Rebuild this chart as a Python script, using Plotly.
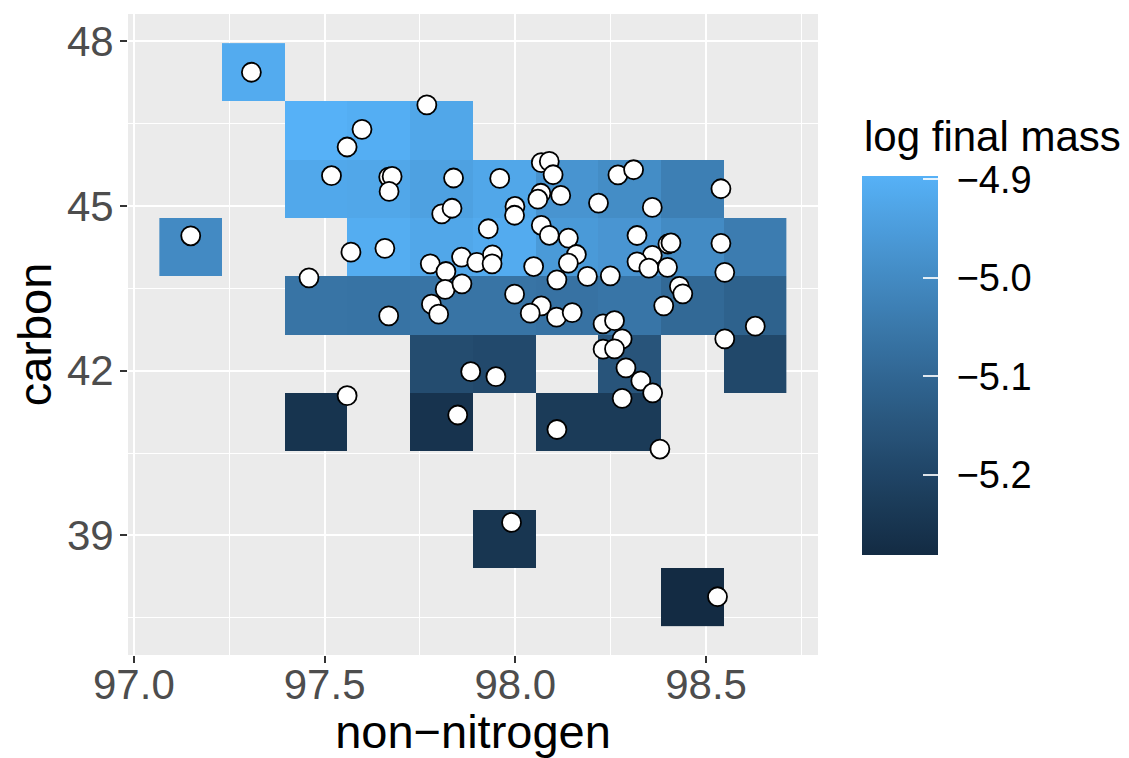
import numpy as np
import plotly.graph_objects as go

# ---- point data (non-nitrogen, carbon) ----
pt_x = [97.308, 97.149, 97.768, 97.598, 97.559, 97.518, 97.668, 97.677, 97.669, 97.838,
        97.807, 97.834, 97.569, 97.658, 97.777, 97.818, 97.459, 97.959, 98.068, 98.089,
        98.099, 98.067, 98.059, 98.119, 98.218, 97.999, 97.998, 97.929, 98.068, 98.089,
        98.139, 98.160, 98.139, 98.048, 98.189, 97.859, 97.899, 97.940, 97.939, 98.269,
        98.310, 98.539, 98.359, 98.319, 98.400, 98.408, 98.539, 98.359, 98.319, 98.350,
        98.399, 98.549, 98.109, 98.249, 97.998, 98.068, 98.039, 98.108, 98.149, 98.430,
        98.439, 98.389, 98.629, 98.549, 98.230, 98.260, 98.280, 98.230, 98.260, 98.290,
        98.329, 98.360, 98.280, 97.949, 97.883, 98.109, 98.379, 97.849, 97.990, 98.530,
        97.559, 97.668, 97.780, 97.799, 97.816, 97.860]
pt_y = [47.435, 44.457, 46.840, 46.395, 46.074, 45.551, 45.527, 45.538, 45.265, 45.509,
        44.855, 44.958, 44.160, 44.229, 43.946, 43.806, 43.691, 45.502, 45.788, 45.812,
        45.569, 45.232, 45.123, 45.192, 45.053, 44.991, 44.831, 44.585, 44.648, 44.466,
        44.415, 44.116, 43.959, 43.897, 43.719, 44.069, 43.974, 44.111, 43.946, 45.566,
        45.660, 45.314, 44.973, 44.462, 44.307, 44.326, 44.320, 44.101, 43.983, 43.868,
        43.883, 43.791, 43.655, 43.728, 43.394, 43.181, 43.047, 42.974, 43.058, 43.536,
        43.399, 43.181, 42.810, 42.579, 42.852, 42.911, 42.579, 42.391, 42.396, 42.050,
        41.813, 41.594, 41.497, 41.891, 41.982, 40.929, 40.573, 41.193, 39.236, 37.883,
        41.545, 42.998, 43.212, 43.029, 43.481, 43.582]

# ---- binned summary (mean log final mass per 2D bin, 10 x 10 bins) ----
n_bins = 10
tile_col = [1, 2, 3, 4, 2, 3, 4, 5, 6, 7, 8,
            0, 3, 4, 5, 6, 7, 8, 9,
            2, 3, 4, 5, 6, 7, 8, 9,
            4, 5, 7, 9,
            2, 4, 6, 7,
            5, 8]
tile_row = [9, 8, 8, 8, 7, 7, 7, 7, 7, 7, 7,
            6, 6, 6, 6, 6, 6, 6, 6,
            5, 5, 5, 5, 5, 5, 5, 5,
            4, 4, 4, 4,
            3, 3, 3, 3,
            1, 0]
tile_val = [-4.912, -4.8966, -4.904, -4.924, -4.920, -4.924, -4.939, -4.924, -4.974, -4.993, -5.031,
            -5.000, -4.908, -4.924, -4.912, -4.958, -4.970, -4.997, -5.039,
            -5.062, -5.064, -5.062, -5.062, -5.066, -5.058, -5.093, -5.112,
            -5.178, -5.185, -5.154, -5.189,
            -5.253, -5.255, -5.231, -5.231,
            -5.247, -5.2815]

x_ticks = [97.0, 97.5, 98.0, 98.5]
y_ticks = [39, 42, 45, 48]
cb_ticks = [-4.9, -5.0, -5.1, -5.2]

# bin centres spread over the data range (as ggplot's bins do)
x_centers = np.linspace(min(pt_x), max(pt_x), n_bins)
y_centers = np.linspace(min(pt_y), max(pt_y), n_bins)
z = [[None] * n_bins for _ in range(n_bins)]
for c, r, v in zip(tile_col, tile_row, tile_val):
    z[r][c] = v
zmin, zmax = min(tile_val), max(tile_val)

# ---- ggplot-like gradient interpolated in CIELAB ----
def _srgb_to_lab(h):
    rgb = [int(h[i:i + 2], 16) / 255 for i in (1, 3, 5)]
    lin = [c / 12.92 if c <= 0.04045 else ((c + 0.055) / 1.055) ** 2.4 for c in rgb]
    X = 0.4124 * lin[0] + 0.3576 * lin[1] + 0.1805 * lin[2]
    Y = 0.2126 * lin[0] + 0.7152 * lin[1] + 0.0722 * lin[2]
    Z = 0.0193 * lin[0] + 0.1192 * lin[1] + 0.9505 * lin[2]
    Xn, Yn, Zn = 0.95047, 1.0, 1.08883
    f = lambda t: t ** (1 / 3) if t > 0.008856 else 7.787 * t + 16 / 116
    fx, fy, fz = f(X / Xn), f(Y / Yn), f(Z / Zn)
    return (116 * fy - 16, 500 * (fx - fy), 200 * (fy - fz))

def _lab_to_rgb(L, a, b):
    fy = (L + 16) / 116
    fx = fy + a / 500
    fz = fy - b / 200
    finv = lambda t: t ** 3 if t ** 3 > 0.008856 else (t - 16 / 116) / 7.787
    X, Y, Z = 0.95047 * finv(fx), finv(fy), 1.08883 * finv(fz)
    r = 3.2406 * X - 1.5372 * Y - 0.4986 * Z
    g = -0.9689 * X + 1.8758 * Y + 0.0415 * Z
    bb = 0.0557 * X - 0.2040 * Y + 1.0570 * Z
    out = []
    for c in (r, g, bb):
        c = max(0.0, min(1.0, c))
        c = 12.92 * c if c <= 0.0031308 else 1.055 * c ** (1 / 2.4) - 0.055
        out.append(int(round(c * 255)))
    return "rgb(%d,%d,%d)" % tuple(out)

lo, hi = _srgb_to_lab("#132B43"), _srgb_to_lab("#56B1F7")
colorscale = []
for k in range(21):
    t = k / 20
    colorscale.append([t, _lab_to_rgb(*[lo[i] + (hi[i] - lo[i]) * t for i in range(3)])])

# ---- geometry (pixels; the page body adds an 8px offset) ----
OFF = 8
W, H = 1129 - OFF, 758 - OFF
ml, mt = 128 - OFF, 14 - OFF
panel_r, panel_b = 818 - OFF, 655 - OFF
mr, mb = W - panel_r, H - panel_b
pw, ph = W - ml - mr, H - mt - mb
cb_left_px, cb_thick, cb_len = 862 - OFF, 76, 379
cb_center_px = 365.5 - OFF
FONT = "Liberation Sans"

fig = go.Figure()
fig.add_trace(go.Heatmap(
    x=x_centers, y=y_centers, z=z, zmin=zmin, zmax=zmax,
    colorscale=colorscale, hoverinfo="skip",
    colorbar=dict(
        x=(cb_left_px - ml) / pw, xanchor="left", xpad=0,
        y=(panel_b - cb_center_px) / ph, yanchor="middle", ypad=0,
        len=cb_len, lenmode="pixels", thickness=cb_thick, thicknessmode="pixels",
        outlinewidth=0,
        tickvals=cb_ticks, ticktext=["\u00a0\u2212%.1f" % abs(v) for v in cb_ticks],
        ticks="inside", ticklen=15, tickwidth=1.5, tickcolor="rgba(255,255,255,0.85)",
        tickfont=dict(size=38, color="black", family=FONT),
    ),
))
fig.add_trace(go.Scatter(
    x=pt_x, y=pt_y, mode="markers", hoverinfo="skip",
    marker=dict(size=19, color="white", line=dict(color="black", width=1.8)),
))

# left-side colourbar ticks (ggplot draws ticks on both edges)
bar_bottom_paper = (panel_b - (cb_center_px + cb_len / 2)) / ph
shapes = []
for v in cb_ticks:
    yp = bar_bottom_paper + (v - zmin) / (zmax - zmin) * cb_len / ph
    x0 = (cb_left_px - ml) / pw
    shapes.append(dict(type="line", xref="paper", yref="paper",
                       x0=x0, x1=x0 + 15 / pw, y0=yp, y1=yp,
                       line=dict(color="rgba(255,255,255,0.85)", width=1.5)))

# legend title
annotations = [dict(text="log final mass", xref="paper", yref="paper",
                    x=(cb_left_px - ml) / pw, xanchor="left",
                    y=(panel_b - (136 - OFF)) / ph, yanchor="middle", showarrow=False,
                    font=dict(size=42, color="black", family=FONT))]

# axis range: data extent of tiles with 5% expansion
xw = x_centers[1] - x_centers[0]
yh = y_centers[1] - y_centers[0]
x_lo, x_hi = x_centers[0] - xw / 2, x_centers[-1] + xw / 2
y_lo, y_hi = y_centers[0] - yh / 2, y_centers[-1] + yh / 2
xpad, ypad = 0.05 * (x_hi - x_lo), 0.05 * (y_hi - y_lo)

axis_common = dict(
    showline=False, zeroline=False, ticks="outside", ticklen=7, tickwidth=1.8,
    tickcolor="#333333", gridcolor="white", gridwidth=2.2, automargin=False,
    tickfont=dict(size=42, color="#4D4D4D", family=FONT),
)
fig.update_layout(
    width=W, height=H, autosize=False,
    margin=dict(l=ml, r=mr, t=mt, b=mb, autoexpand=False),
    paper_bgcolor="white", plot_bgcolor="#EBEBEB",
    showlegend=False, shapes=shapes, annotations=annotations,
    font=dict(family=FONT),
    xaxis=dict(axis_common, range=[x_lo - xpad, x_hi + xpad],
               tickvals=x_ticks, ticktext=["%.1f" % v for v in x_ticks],
               ticklabelstandoff=-14,
               minor=dict(dtick=0.25, tick0=97.0, showgrid=True, gridcolor="white", gridwidth=1.1, ticks=""),
               title=dict(text="non\u2212nitrogen", standoff=0,
                          font=dict(size=47, color="black", family=FONT))),
    yaxis=dict(axis_common, range=[y_lo - ypad, y_hi + ypad],
               tickvals=y_ticks, ticktext=[str(v) for v in y_ticks],
               ticklabelstandoff=-2,
               minor=dict(dtick=1.5, tick0=39, showgrid=True, gridcolor="white", gridwidth=1.1, ticks=""),
               title=dict(text="carbon", standoff=0,
                          font=dict(size=47, color="black", family=FONT))),
)
fig.write_html("out.html", config={"displayModeBar": False})
